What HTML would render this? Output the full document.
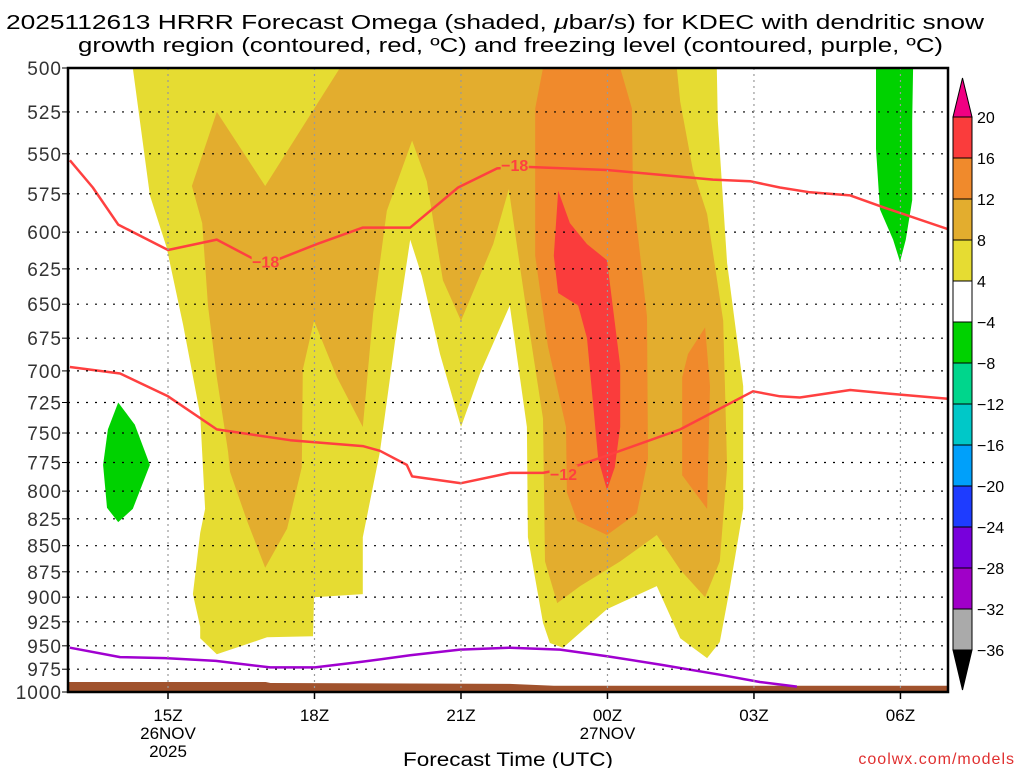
<!DOCTYPE html>
<html><head><meta charset="utf-8"><style>
body{margin:0;background:#fff;width:1024px;height:768px;overflow:hidden}
svg text{font-family:"Liberation Sans",sans-serif}
</style></head><body>
<svg id="chart" width="1024" height="768" xmlns="http://www.w3.org/2000/svg">
<text x="6" y="29" font-size="20" textLength="978" lengthAdjust="spacingAndGlyphs">2025112613 HRRR Forecast Omega (shaded, <tspan font-style="italic">μ</tspan>bar/s) for KDEC with dendritic snow</text>
<text x="78" y="52" font-size="20" textLength="865" lengthAdjust="spacingAndGlyphs">growth region (contoured, red, ºC) and freezing level (contoured, purple, ºC)</text>
<g id="plot"></g>
<text x="403" y="766" font-size="19" textLength="210" lengthAdjust="spacingAndGlyphs">Forecast Time (UTC)</text>
<text x="1015" y="764" font-size="16" fill="#e03030" text-anchor="end" letter-spacing="1">coolwx.com/models</text>
</svg>
<script>
const NS='http://www.w3.org/2000/svg';
const pLevels=[500,525,550,575,600,625,650,675,700,725,750,775,800,825,850,875,900,925,950,975,1000];
const timeTicks=[15,18,21,24,27,30];
const timeLabels=['15Z','18Z','21Z','00Z','03Z','06Z'];
const dateLabels={15:['26NOV','2025'],24:['27NOV']};
const cbLevels=['20','16','12','8','4','−4','−8','−12','−16','−20','−24','−28','−32','−36'];
const cbColors=['#fa3c3c','#f08a2c','#e3ad2e','#e6dc32','#ffffff','#00d200','#00d68c','#00c8c8','#00a0fa','#1e3cff','#7800dc','#a000c8','#aaaaaa'];
const yellowRegion=[[14.28,500],[14.63,576],[14.97,610],[15.31,665],[15.66,735],[15.76,816],[15.66,838],[15.51,897],[15.66,930],[15.66,942],[16.0,959],[17.03,941],[17.97,940],[17.99,900],[18.99,897],[18.99,842],[19.34,766],[19.65,677],[19.96,605],[20.2,630],[20.57,687],[21.0,745],[21.39,702],[22.0,651],[22.35,745],[22.37,842],[22.68,926],[22.82,947],[23.09,952],[23.99,912],[25.01,889],[25.49,942],[26.04,963],[26.3,946],[26.5,893],[26.78,816],[26.78,712],[26.45,621],[26.26,530],[26.24,500]];
const omega8Region=[[18.52,500],[16.99,570],[16.0,525],[15.49,570],[15.7,594],[15.82,651],[16.0,705],[16.23,766],[16.27,783],[16.62,827],[16.99,871],[17.44,834],[17.74,779],[17.76,699],[17.99,662],[18.46,705],[18.99,745],[19.2,657],[19.48,586],[20.0,542],[20.3,567],[20.63,633],[21.0,662],[21.66,608],[21.98,572],[22.21,624],[22.35,657],[22.68,738],[22.72,865],[22.97,906],[23.44,889],[24.26,865],[25.01,840],[25.49,873],[26.0,900],[26.3,865],[26.45,779],[26.37,662],[26.04,588],[25.75,560],[25.49,519],[25.42,500]];
const omega12Region=[[22.68,500],[22.52,523],[22.52,616],[22.78,681],[23.15,745],[23.17,801],[23.38,827],[23.99,840],[24.6,820],[24.83,772],[24.81,659],[24.52,573],[24.5,523],[24.26,500]];
const omega12RegionB=[[26.0,667],[26.1,712],[26.04,816],[25.53,786],[25.53,705],[25.65,687]];
const omega16Region=[[22.99,573],[23.23,594],[23.58,608],[23.99,619],[24.26,696],[24.26,745],[24.15,779],[23.99,799],[23.81,772],[23.58,675],[23.4,651],[22.99,642],[22.9,616]];
const negRegionA=[[13.98,725],[14.32,743],[14.63,777],[14.28,816],[13.98,828],[13.75,815],[13.67,777],[13.77,747]];
const negRegionB=[[29.5,500],[30.26,500],[30.24,530],[30.24,579],[30.11,605],[29.99,620],[29.85,605],[29.58,585],[29.5,547]];
const iso18=[[12.99,554],[13.46,571],[13.98,595],[15.0,612],[16.0,605],[16.74,618],[17.29,618],[18.05,608],[18.99,597],[19.96,597],[20.94,571],[21.74,559],[22.27,558],[23.99,560],[26.16,566],[26.92,567],[27.53,571],[28.15,574],[28.97,576],[29.68,584],[30.97,598]];
const iso18Labels=[[17.0,620],[22.1,557]];
const iso12=[[12.99,697],[14.02,702],[15.0,720],[16.0,747],[17.5,756],[18.99,761],[19.34,765],[19.89,777],[20.0,787],[21.0,793],[22.0,784],[22.68,784],[23.29,779],[23.99,769],[25.49,747],[26.98,716],[27.53,720],[27.94,721],[28.97,715],[29.79,718],[30.97,722]];
const iso12Labels=[[23.1,785]];
const freezeLine=[[12.99,952],[14.02,962],[14.94,963],[15.98,966],[17.09,973],[18.01,973],[18.97,967],[19.96,960],[20.98,954],[22.0,952],[23.03,954],[23.99,961],[25.08,970],[26.3,981],[27.12,989],[27.88,994]];
const sfcHours=[12.95,17.0,17.1,22.0,22.9,31.05];
const sfcPres=[989,989,990,991,993,993];

const X0=68,X1=948,Y0=68,Y1=692;
function xs(h){return 168+(h-15)*48.83;}
function ys(p){return Y0+(Y1-Y0)*Math.log2(p/500);}
const plot=document.getElementById('plot');
function mk(tag,attrs,parent){const e=document.createElementNS(NS,tag);for(const k in attrs)e.setAttribute(k,attrs[k]);(parent||plot).appendChild(e);return e;}
const defs=mk('defs',{});
const cp=mk('clipPath',{id:'clip'},defs);mk('rect',{x:X0,y:Y0,width:X1-X0,height:Y1-Y0},cp);
const mask=mk('mask',{id:'lblmask',maskUnits:'userSpaceOnUse',x:0,y:0,width:1024,height:768},defs);
mk('rect',{x:0,y:0,width:1024,height:768,fill:'#fff'},mask);
iso18Labels.concat(iso12Labels).forEach(d=>mk('rect',{x:xs(d[0])-14,y:ys(d[1])-9,width:28,height:18,fill:'#000'},mask));
const g=mk('g',{'clip-path':'url(#clip)'});
function pts(arr){return arr.map(d=>xs(d[0]).toFixed(1)+','+ys(d[1]).toFixed(1)).join(' ');}
function region(arr,fill,name){const e=mk('polygon',{points:pts(arr),fill:fill},g);

}
region(yellowRegion,'#e6dc32','omega-4-8');
region(omega8Region,'#e3ad2e','omega-8-12');
region(omega12Region,'#f08a2c','omega-12-16');
region(omega12RegionB,'#f08a2c','omega-12-16-b');
region(omega16Region,'#fa3c3c','omega-16-20');
region(negRegionA,'#00d200','omega-neg-a');
region(negRegionB,'#00d200','omega-neg-b');
const sp=sfcHours.map((h,i)=>[h,sfcPres[i]]);
const sfc=mk('polygon',{points:pts(sp)+' '+xs(31.05)+','+Y1+' '+xs(12.95)+','+Y1,fill:'#a0522d'},g);


pLevels.forEach(p=>{const y=ys(p);
const l=mk('line',{x1:X0,x2:X1,y1:y,y2:y,stroke:'#000','stroke-width':1.2,'stroke-dasharray':'2,7'});


mk('line',{x1:X0-6,x2:X0,y1:y,y2:y,stroke:'#000','stroke-width':1});
const t=mk('text',{x:X0-6,y:y+7,'font-size':19,'text-anchor':'end',fill:'#333','letter-spacing':1});t.textContent=p;

});
timeTicks.forEach((h,i)=>{const x=xs(h);
const l=mk('line',{x1:x,x2:x,y1:Y0,y2:Y1,stroke:'#999','stroke-width':1.2,'stroke-dasharray':'2,4'});


mk('line',{x1:x,x2:x,y1:Y1,y2:Y1+7,stroke:'#000','stroke-width':1.5});
const t=mk('text',{x:x,y:721,'font-size':17,'text-anchor':'middle'});t.textContent=timeLabels[i];


(dateLabels[h]||[]).forEach((s,j)=>{const d=mk('text',{x:x,y:739+j*18,'font-size':17,'text-anchor':'middle'});d.textContent=s;

});});
const lg=mk('g',{mask:'url(#lblmask)'},g);
function line(arr,col,name,par){const e=mk('polyline',{points:pts(arr),fill:'none',stroke:col,'stroke-width':2.5,'stroke-linejoin':'round'},par);

}
line(iso18,'#ff4040','isotherm-minus18',lg);
line(iso12,'#ff4040','isotherm-minus12',lg);
line(freezeLine,'#a000d0','freezing-level',g);
function lab(arr,txt){arr.forEach(d=>{const t=mk('text',{x:xs(d[0]),y:ys(d[1])+6,'font-size':16,'font-weight':'bold','text-anchor':'middle',fill:'#ff4040'},g);t.textContent=txt;

});}
lab(iso18Labels,'−18');lab(iso12Labels,'−12');
const fr=mk('rect',{x:X0,y:Y0,width:X1-X0,height:Y1-Y0,fill:'none',stroke:'#000','stroke-width':2.5});


const cbx=953,cbw=19,cbt=117,cbh=41;
const cb=mk('g',{});


mk('polygon',{points:`${cbx},${cbt} ${cbx+cbw},${cbt} ${cbx+cbw/2},78`,fill:'#f00082',stroke:'#000','stroke-width':1},cb);
cbColors.forEach((c,i)=>{mk('rect',{x:cbx,y:cbt+i*cbh,width:cbw,height:cbh,fill:c,stroke:'#000','stroke-width':1},cb);});
const cbb=cbt+cbColors.length*cbh;
mk('polygon',{points:`${cbx},${cbb} ${cbx+cbw},${cbb} ${cbx+cbw/2},690`,fill:'#000',stroke:'#000','stroke-width':1},cb);
cbLevels.forEach((s,i)=>{const t=mk('text',{x:977,y:cbt+i*cbh+6,'font-size':16},cb);t.textContent=s;

});
</script>
</body></html>
